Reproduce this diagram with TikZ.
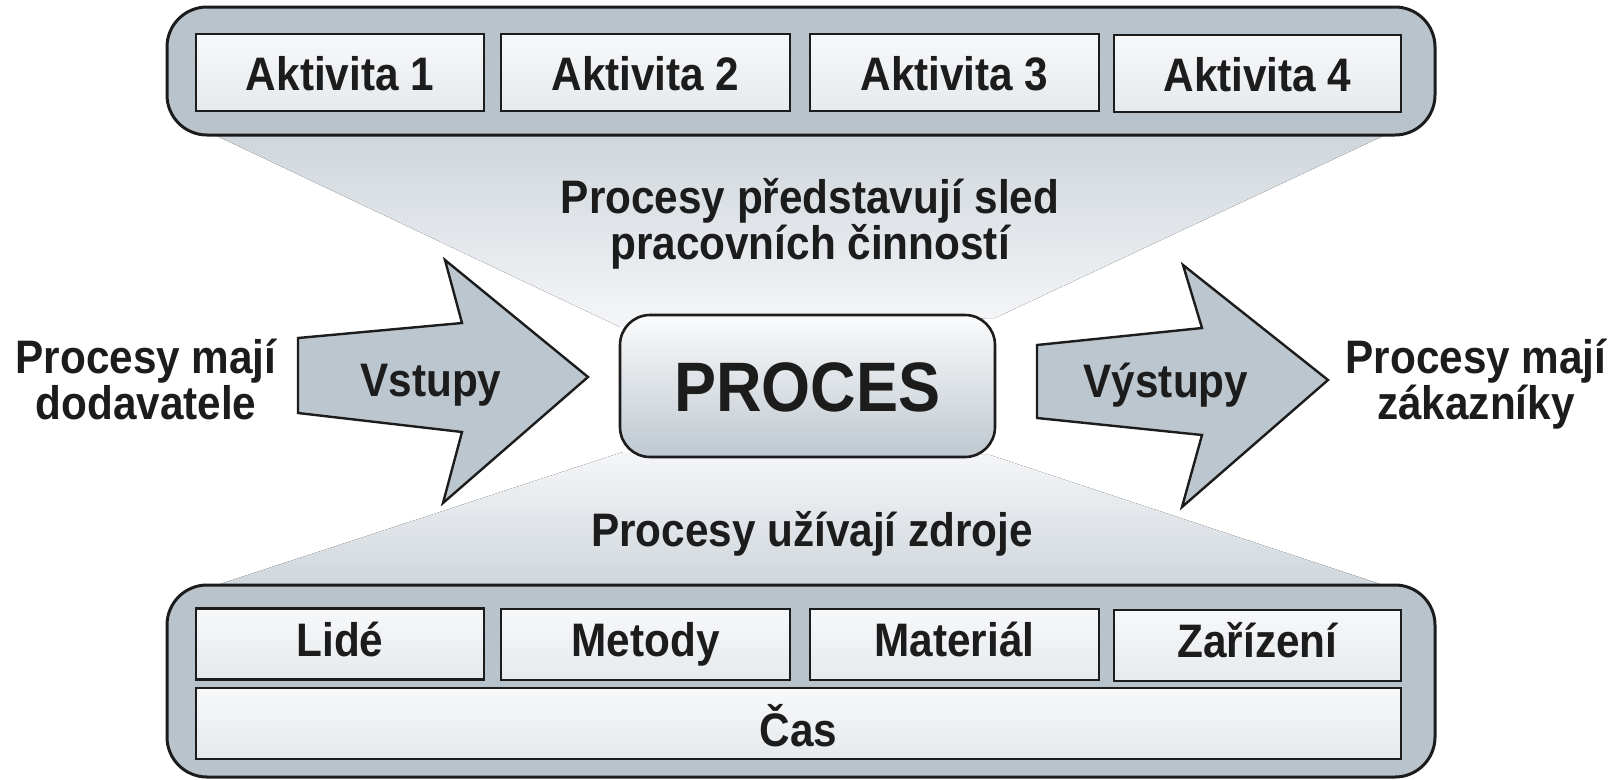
\documentclass[tikz,border=0pt]{standalone}
\usepackage{fontspec}
\setmainfont{Liberation Sans}[FakeStretch=0.9]
\begin{document}
\definecolor{ink}{HTML}{1C1C1C}
\definecolor{panelfill}{HTML}{B9C3CB}
\definecolor{arrowfill}{HTML}{BCC6CE}
\definecolor{boxtop}{HTML}{F7F8FA}
\definecolor{boxbottom}{HTML}{E6EAED}
\definecolor{beamdark}{HTML}{CFD6DC}
\definecolor{beamlight}{HTML}{F5F6F8}
\definecolor{proctop}{HTML}{FAFBFC}
\definecolor{procbottom}{HTML}{BFC8D0}
\begin{tikzpicture}[x=1pt,y=-1pt,
  every node/.style={text=ink, font=\bfseries\fontsize{47}{46}\selectfont},
  panel/.style={draw=ink, line width=3pt, fill=panelfill, rounded corners=40pt, inner sep=0pt},
  cell/.style={draw=ink, line width=2.6pt, top color=boxtop, bottom color=boxbottom, inner sep=0pt},
  topcell/.style={cell, minimum height=77pt, text height=35pt, text depth=0pt},
  lowcell/.style={cell, minimum height=71pt, text height=29pt, text depth=5pt},
  bigarrow/.style={draw=ink, line width=2.4pt, fill=arrowfill, line join=miter},
  caption/.style={align=center, inner sep=0pt},
]
\useasboundingbox (0,0) rectangle (1614,779);

% light beams joining the panels with the central box
\fill[top color=beamdark, bottom color=beamlight]
  (217,136) -- (1383,136) -- (995,318) -- (620,327) -- cycle;
\fill[top color=beamlight, bottom color=beamdark]
  (623,452) -- (990,455) -- (1383,585) -- (217,585) -- cycle;

% activities panel
\node[panel, minimum width=1268pt, minimum height=128pt] (acts) at (801,71) {};
\node[topcell, minimum width=288pt] (a1) at (340,72.5) {Aktivita 1};
\node[topcell, minimum width=289pt] (a2) at (645.5,72.5) {Aktivita 2};
\node[topcell, minimum width=289pt] (a3) at (954.5,72.5) {Aktivita 3};
\node[topcell, minimum width=287pt] (a4) at (1257.5,73.5) {Aktivita 4};

% resources panel
\node[panel, minimum width=1268pt, minimum height=192pt] (res) at (801,681) {};
\node[lowcell, minimum width=288pt] (r1) at (340,644) {Lidé};
\node[lowcell, minimum width=289pt] (r2) at (645.5,644.5) {Metody};
\node[lowcell, minimum width=289pt] (r3) at (954.5,644.5) {Materiál};
\node[lowcell, minimum width=287pt] (r4) at (1257.5,645.5) {Zařízení};
\node[cell, minimum width=1205pt, minimum height=71pt, text height=46pt,
  text depth=0pt] (time) at (798.5,723.5) {Čas};

% central process box
\node[draw=ink, line width=2.6pt, rounded corners=30pt, top color=proctop,
  bottom color=procbottom, minimum width=375pt, minimum height=142pt,
  text height=50pt, text depth=0pt,
  font=\bfseries\fontsize{70}{70}\selectfont] (proc) at (807.5,386) {PROCES};

% input and output arrows
\draw[bigarrow] (298,413) -- (298,338) -- (462,323) -- (445,260) -- (588,377)
  -- (443,503) -- (462,432) -- cycle;
\node[anchor=base] (in) at (431,396) {Vstupy};
\draw[bigarrow] (1037,418) -- (1037,345) -- (1202,328) -- (1183,265) -- (1328,380)
  -- (1182,507) -- (1202,435) -- cycle;
\node[anchor=base] (out) at (1166,397) {Výstupy};

% captions
\node[caption] (seq) at (810,224) {Procesy představují sled\\pracovních činností};
\node[caption] (supp) at (146,379) {Procesy mají\\dodavatele};
\node[caption] (cust) at (1476,384) {Procesy mají\\zákazníky};
\node[caption, anchor=base] (uses) at (812,546) {Procesy užívají zdroje};
\end{tikzpicture}
\end{document}
